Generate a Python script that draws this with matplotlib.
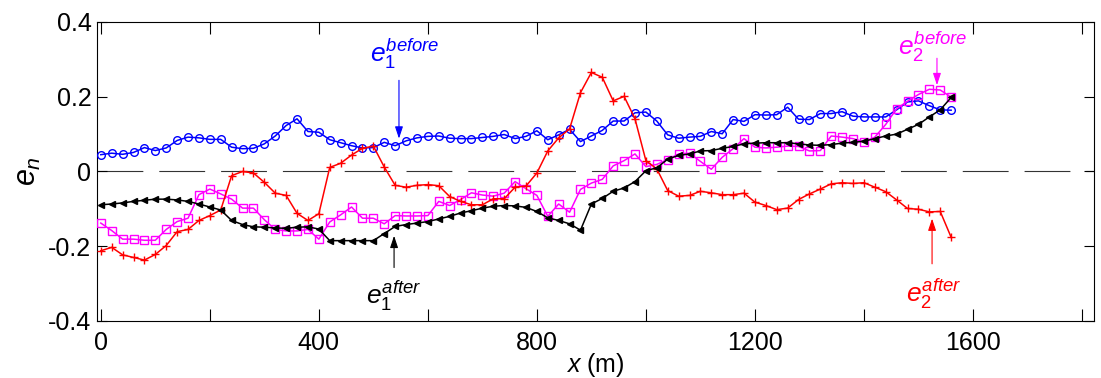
import matplotlib
matplotlib.use("Agg")
import matplotlib.pyplot as plt
import numpy as np

plt.rcParams['font.family'] = ['Liberation Sans', 'DejaVu Sans']
plt.rcParams['mathtext.fontset'] = 'custom'
plt.rcParams['mathtext.rm'] = 'Liberation Sans'
plt.rcParams['mathtext.it'] = 'Liberation Sans:italic'
plt.rcParams['axes.unicode_minus'] = False
plt.rcParams['lines.scale_dashes'] = False

# distance along the line, every 20 m
x = np.arange(0, 1580, 20)

e1_before = [0.045, 0.049, 0.046, 0.051, 0.064, 0.056, 0.063, 0.083, 0.092, 0.090,
             0.086, 0.086, 0.065, 0.061, 0.062, 0.074, 0.095, 0.123, 0.141, 0.107,
             0.105, 0.085, 0.077, 0.069, 0.063, 0.064, 0.078, 0.069, 0.082, 0.090,
             0.094, 0.095, 0.089, 0.088, 0.088, 0.091, 0.094, 0.099, 0.088, 0.094,
             0.109, 0.085, 0.098, 0.113, 0.080, 0.095, 0.110, 0.135, 0.135, 0.157,
             0.159, 0.135, 0.098, 0.089, 0.092, 0.094, 0.107, 0.101, 0.139, 0.134,
             0.152, 0.151, 0.152, 0.172, 0.140, 0.139, 0.155, 0.155, 0.160, 0.148,
             0.146, 0.146, 0.146, 0.165, 0.186, 0.189, 0.176, 0.165, 0.164]

e2_before = [-0.138, -0.158, -0.181, -0.181, -0.184, -0.184, -0.155, -0.134, -0.125, -0.062,
             -0.047, -0.060, -0.074, -0.098, -0.098, -0.129, -0.155, -0.159, -0.159, -0.155,
             -0.181, -0.135, -0.116, -0.095, -0.125, -0.125, -0.140, -0.118, -0.119, -0.119,
             -0.118, -0.080, -0.091, -0.075, -0.057, -0.063, -0.066, -0.058, -0.027, -0.046,
             -0.064, -0.120, -0.087, -0.109, -0.048, -0.031, -0.021, 0.015, 0.029, 0.047,
             0.013, 0.019, 0.032, 0.047, 0.049, 0.027, 0.006, 0.038, 0.061, 0.088,
             0.065, 0.063, 0.065, 0.068, 0.067, 0.055, 0.056, 0.095, 0.092, 0.088,
             0.079, 0.092, 0.126, 0.168, 0.188, 0.206, 0.220, 0.218, 0.199]

e1_after = [-0.089, -0.087, -0.084, -0.080, -0.077, -0.074, -0.074, -0.076, -0.080, -0.087,
            -0.095, -0.103, -0.131, -0.142, -0.148, -0.149, -0.151, -0.152, -0.149, -0.148,
            -0.154, -0.185, -0.185, -0.185, -0.185, -0.185, -0.166, -0.147, -0.142, -0.138,
            -0.134, -0.127, -0.120, -0.111, -0.105, -0.098, -0.093, -0.091, -0.092, -0.096,
            -0.107, -0.124, -0.131, -0.140, -0.157, -0.087, -0.072, -0.053, -0.044, -0.027,
            0.002, 0.010, 0.033, 0.043, 0.047, 0.055, 0.056, 0.062, 0.067, 0.074,
            0.076, 0.077, 0.077, 0.077, 0.074, 0.071, 0.070, 0.072, 0.076, 0.078,
            0.081, 0.088, 0.095, 0.100, 0.113, 0.126, 0.146, 0.165, 0.198]

e2_after = [-0.212, -0.203, -0.223, -0.230, -0.237, -0.222, -0.198, -0.161, -0.155, -0.131,
            -0.118, -0.103, -0.011, 0.000, -0.004, -0.029, -0.058, -0.064, -0.112, -0.131,
            -0.113, 0.011, 0.022, 0.044, 0.062, 0.068, 0.012, -0.037, -0.042, -0.037,
            -0.035, -0.038, -0.067, -0.080, -0.089, -0.089, -0.073, -0.073, -0.042, -0.039,
            -0.004, 0.055, 0.090, 0.114, 0.211, 0.265, 0.252, 0.189, 0.201, 0.141,
            0.029, 0.007, -0.051, -0.066, -0.064, -0.053, -0.057, -0.062, -0.062, -0.058,
            -0.082, -0.091, -0.102, -0.098, -0.075, -0.060, -0.047, -0.033, -0.030, -0.032,
            -0.030, -0.042, -0.054, -0.076, -0.099, -0.101, -0.108, -0.107, -0.176]

xticks_major = [0, 400, 800, 1200, 1600]
xticks_minor = [200, 600, 1000, 1400, 1800]
yticks = [-0.4, -0.2, 0, 0.2, 0.4]
ytick_labels = ["-0.4", "-0.2", "0", "0.2", "0.4"]

fig = plt.figure(figsize=(11.01, 3.78), dpi=100)
ax = fig.add_axes([0.0881, 0.1508, 0.9055, 0.791])

ax.axhline(0, color='#333333', lw=0.8, dashes=(33, 11.5), zorder=1)

ax.plot(x, e1_before, '-o', color='blue', lw=1.1, ms=5.5, mfc='none', mew=1.0, zorder=3)
ax.plot(x, e2_before, '-s', color='magenta', lw=1.1, ms=5.5, mfc='none', mew=1.0, zorder=3)
ax.plot(x, e2_after, '-+', color='red', lw=1.1, ms=6, mew=1.0, zorder=3)
ax.plot(x, e1_after, '-<', color='black', lw=1.1, ms=4.3, zorder=4)

ax.set_xlim(-7, 1822)
ax.set_ylim(-0.4, 0.4)
ax.set_xticks(xticks_major)
ax.set_xticks(xticks_minor, minor=True)
ax.set_yticks(yticks)
ax.set_yticklabels(ytick_labels)
ax.tick_params(which='both', direction='in', top=True, right=True,
               labelsize=18, width=0.8)
ax.tick_params(axis='x', which='both', length=8.5, pad=7)
ax.tick_params(axis='y', which='both', length=7, pad=4)
for sp in ax.spines.values():
    sp.set_linewidth(0.8)

ax.set_xlabel(r'$x$ (m)', fontsize=18, labelpad=-3)
ax.set_ylabel(r'$e_n$', fontsize=22, labelpad=4)

# annotations
arr = dict(arrowstyle='-|>,head_length=0.6,head_width=0.2', lw=0.8,
           mutation_scale=12, shrinkA=0, shrinkB=0)
ax.annotate('', xy=(547, 0.088), xytext=(547, 0.244),
            arrowprops=dict(arr, color='blue'))
ax.text(557, 0.314, r'$e_{\mathit{1}}^{before}$', color='blue',
        fontsize=19, ha='center', va='center')

ax.annotate('', xy=(1534, 0.231), xytext=(1534, 0.303),
            arrowprops=dict(arr, color='magenta'))
ax.text(1527, 0.332, r'$e_{\mathit{2}}^{before}$', color='magenta',
        fontsize=19, ha='center', va='center')

ax.annotate('', xy=(538, -0.172), xytext=(538, -0.257),
            arrowprops=dict(arr, color='black'))
ax.text(538, -0.332, r'$e_{\mathit{1}}^{after}$', color='black',
        fontsize=19, ha='center', va='center')

ax.annotate('', xy=(1525, -0.126), xytext=(1525, -0.247),
            arrowprops=dict(arr, color='red'))
ax.text(1528, -0.327, r'$e_{\mathit{2}}^{after}$', color='red',
        fontsize=19, ha='center', va='center')

fig.savefig('out.png', dpi=100)
